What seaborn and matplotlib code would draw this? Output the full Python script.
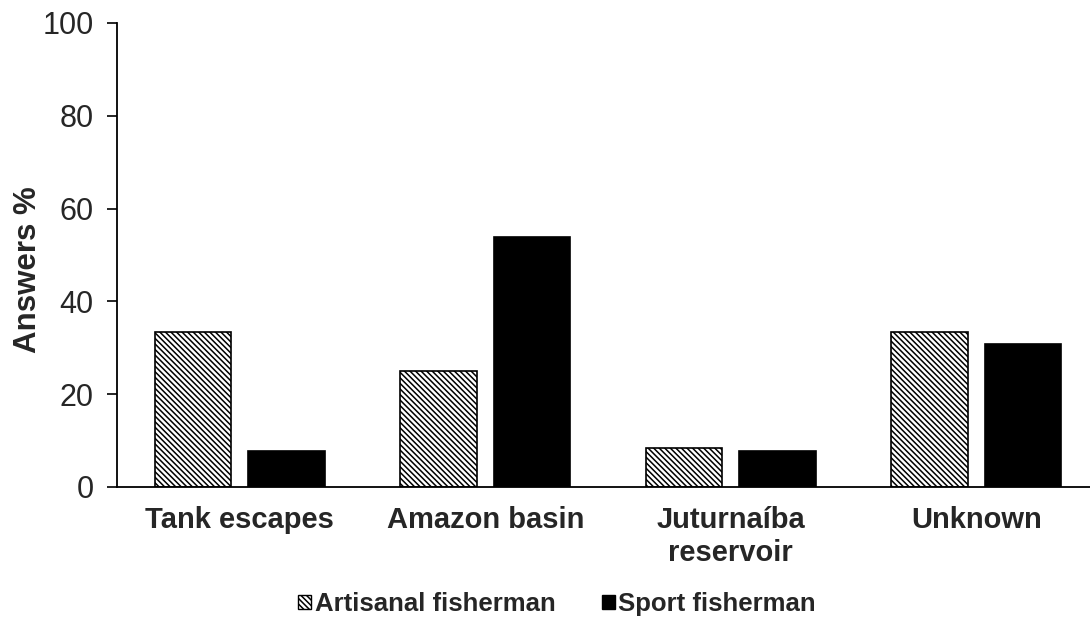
import matplotlib
matplotlib.use("Agg")
import matplotlib.pyplot as plt
import seaborn as sns
import pandas as pd
from matplotlib.patches import Patch

categories = ["Tank escapes", "Amazon basin", "Juturnaíba\nreservoir", "Unknown"]
artisanal = [33.3, 25.0, 8.3, 33.3]
sport = [7.7, 53.8, 7.7, 30.8]
series_names = ["Artisanal fisherman", "Sport fisherman"]
yticks = [0, 20, 40, 60, 80, 100]

sns.set_theme(style="white")
plt.rcParams['font.family'] = ['Liberation Sans', 'DejaVu Sans']
plt.rcParams['hatch.linewidth'] = 1.1

df = pd.DataFrame({
    "Category": categories * 2,
    "Group": [series_names[0]] * 4 + [series_names[1]] * 4,
    "Value": artisanal + sport,
})

HATCH = "\\\\\\\\\\\\"

fig = plt.figure(figsize=(10.9, 6.19), dpi=100)
ax = fig.add_axes([117 / 1090, 1 - 487 / 619, (1090 - 117) / 1090, (487 - 23) / 619])

sns.barplot(data=df, x="Category", y="Value", hue="Group",
            palette=["white", "black"], edgecolor="black", linewidth=1.2,
            width=0.76, gap=0.18, ax=ax, legend=False, saturation=1)

for bar in ax.patches[:4]:
    bar.set_hatch(HATCH)
    bar.set_edgecolor("black")

ax.set_xlim(-0.5, -0.5 + (1090 - 117) / 245.5)
ax.set_ylim(0, 100)
ax.set_yticks(yticks)
ax.set_yticklabels([str(t) for t in yticks], fontsize=22)
ax.set_xticklabels(categories, fontsize=21, fontweight="bold")
ax.set_xlabel("")
ax.set_ylabel("Answers %", fontsize=22.5, fontweight="bold", va="center", ha="center")
ax.yaxis.set_label_coords((28 - 117) / 973, 1 - (270 - 23) / 464)
ax.tick_params(axis="y", which="major", left=True, length=7, width=1.2, color="black", pad=10)
ax.tick_params(axis="x", bottom=False, pad=8)
for s in ["top", "right"]:
    ax.spines[s].set_visible(False)
for s in ["left", "bottom"]:
    ax.spines[s].set_color("black")
    ax.spines[s].set_linewidth(1.3)

handles = [Patch(facecolor="white", edgecolor="black", hatch=HATCH, label=series_names[0]),
           Patch(facecolor="black", edgecolor="black", label=series_names[1])]
fig.legend(handles=handles, loc="center", bbox_to_anchor=(557 / 1090, 1 - 604 / 619),
           ncol=2, frameon=False, prop={"weight": "bold", "size": 18.5},
           handlelength=0.5, handleheight=0.5, handletextpad=0.15, columnspacing=1.8)

fig.savefig("out.png", dpi=100)
